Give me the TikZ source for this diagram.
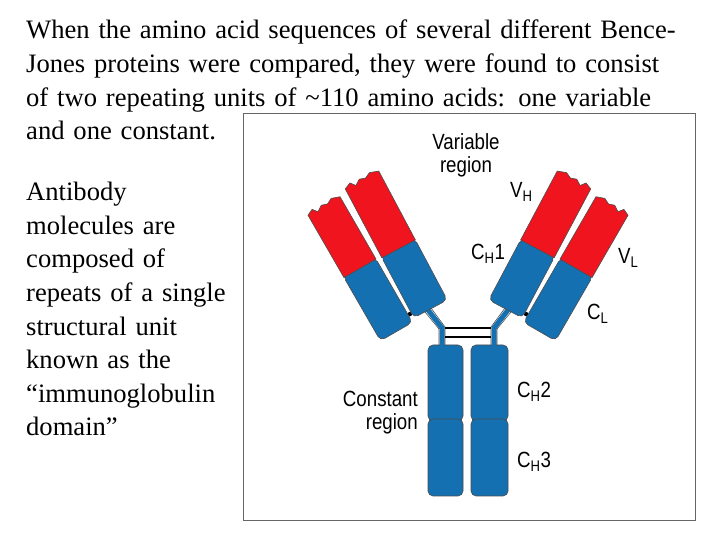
\documentclass[tikz,border=0pt]{standalone}
\usepackage{fontspec}
\setmainfont{Liberation Serif}
\newfontfamily\lab{Liberation Sans}[FakeStretch=0.85]
\begin{document}
\begin{tikzpicture}[x=1pt,y=1pt,
  dom/.style={draw=black!70,line width=0.6pt,rounded corners=3pt},
  vr/.style={dom,fill=abred},
  cb/.style={dom,fill=abblue},
  lbl/.style={font=\lab\fontsize{22}{23}\selectfont,inner sep=0pt},
  txt/.style={font=\fontsize{26.6}{33.6}\selectfont,inner sep=0pt,anchor=north west,align=left}]
\definecolor{abred}{RGB}{240,20,30}
\definecolor{abblue}{RGB}{20,112,176}
\useasboundingbox[fill=white] (0,0) rectangle (720,540);
\draw[black!60,line width=1pt] (243,540-114) rectangle (695,540-521);
\node[txt,text width=700pt] (t1) at (26,540-20) {When the amino acid sequences of several different Bence-\\Jones proteins were compared, they were found to consist\\of two repeating units of \textasciitilde110 amino acids: one variable\\and one constant.};
\node[txt,text width=220pt] (t2) at (26,540-182) {Antibody\\molecules are\\composed of\\repeats of a single\\structural unit\\known as the\\“immunoglobulin\\domain”};
% stem
\foreach \xa/\xb in {428/463,471/508}{
  \draw[cb,rounded corners=5pt] (\xa,540-345) rectangle (\xb,540-421);
  \draw[cb,rounded corners=5pt] (\xa,540-419) rectangle (\xb,540-496);
}
% hinges and bridges
\foreach \s in {1,-1}{
  \begin{scope}[xshift=468pt,xscale=\s,xshift=-468pt]
   \draw[abblue,line width=5pt] (428,540-310) -- (442,540-328) -- (442,540-346);
   \draw[black!70,line width=0.6pt] (425,540-312) -- (439,540-329) -- (439,540-346);
   \draw[black!70,line width=0.6pt] (431,540-308) -- (445,540-327) -- (445,540-346);
   \fill[black] (410,540-314) circle (2.2pt);
  \end{scope}
}
\draw[black,line width=1.6pt] (445,540-328) -- (491,540-328);
\draw[black,line width=1.6pt] (445,540-337) -- (491,540-337);
% arms
\foreach \s in {1,-1}{
  \begin{scope}[xshift=468pt,xscale=\s,xshift=-468pt]
   \begin{scope}[shift={(324,540-206)},rotate=-60]
     \draw[cb,rounded corners=5pt] (70,-18.5) rectangle (145,18.5);
     \draw[vr,rounded corners=0pt] (72,-18.5) -- (0,-18.5) -- (-3,-12) -- (2,-8) -- (-2,-2) -- (0,4) -- (-3,10) -- (0,18.5) -- (72,18.5) -- cycle;
   \end{scope}
   \begin{scope}[shift={(362,540-180)},rotate=-62]
     \draw[cb,rounded corners=5pt] (76,-19) rectangle (146,19);
     \draw[vr,rounded corners=0pt] (78,-19) -- (0,-19) -- (-3,-12) -- (2,-8) -- (-2,-2) -- (0,4) -- (-3,10) -- (0,19) -- (78,19) -- cycle;
   \end{scope}
  \end{scope}
}
\node[lbl,align=center] (vreg) at (466,540-155) {Variable\\region};
\node[lbl,anchor=west] (vh) at (510,540-192) {V\textsubscript{H}};
\node[lbl,anchor=west] (ch1) at (471,540-254) {C\textsubscript{H}1};
\node[lbl,anchor=west] (vl) at (618,540-258) {V\textsubscript{L}};
\node[lbl,anchor=west] (cl) at (587,540-314) {C\textsubscript{L}};
\node[lbl,anchor=west] (ch2) at (517,540-392) {C\textsubscript{H}2};
\node[lbl,anchor=west] (ch3) at (517,540-462) {C\textsubscript{H}3};
\node[lbl,align=right,anchor=east] (creg) at (418,540-413) {Constant\\region};
\end{tikzpicture}
\end{document}
